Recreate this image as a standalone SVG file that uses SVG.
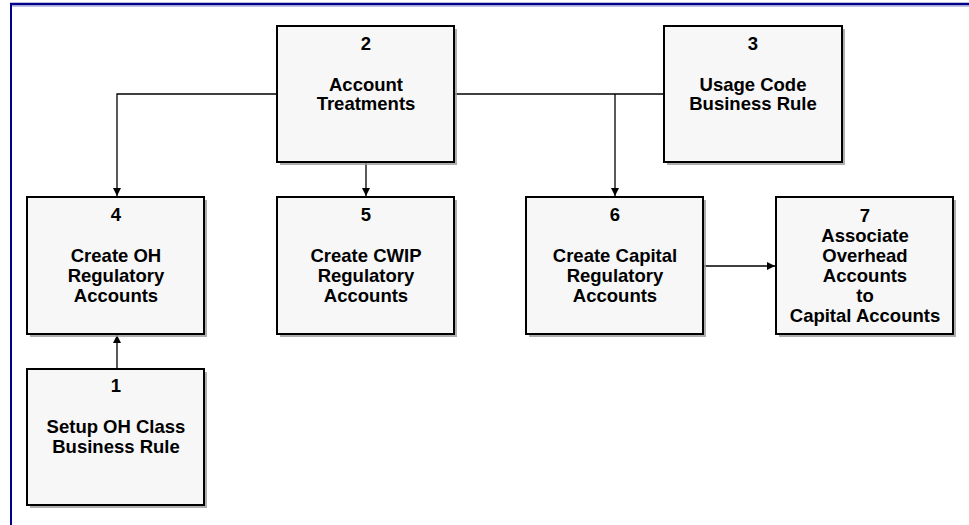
<svg xmlns="http://www.w3.org/2000/svg" width="969" height="525" viewBox="0 0 969 525">
<style>
.shadow{fill:#9a9a9a;opacity:0.8}
.box{fill:#f7f7f7;stroke:#000;stroke-width:2}
.t{font-family:"Liberation Sans",Arial,sans-serif;font-weight:bold;font-size:18.5px;fill:#000;text-anchor:middle}
.c{stroke:#000;stroke-width:1.3;fill:none}
</style>
<defs>
<marker id="arr" viewBox="0 0 10 10" refX="10" refY="5" markerWidth="8" markerHeight="8" markerUnits="userSpaceOnUse" orient="auto">
<path d="M0,0 L10,5 L0,10 z" fill="#000"/>
</marker>
</defs>
<rect width="969" height="525" fill="#fff"/>
<g id="frame">
<line x1="10" y1="4" x2="969" y2="4" stroke="#00008b" stroke-width="2.5"/>
<line x1="10" y1="6" x2="969" y2="6" stroke="#8a8ad0" stroke-width="1"/>
<line x1="11" y1="3" x2="11" y2="525" stroke="#00008b" stroke-width="2"/>
</g>
<g id="connectors">
<polyline class="c" points="277,94 117,94 117,196" marker-end="url(#arr)"/>
<line class="c" x1="454" y1="94" x2="664" y2="94"/>
<line class="c" x1="615" y1="94" x2="615" y2="196" marker-end="url(#arr)"/>
<line class="c" x1="366" y1="162" x2="366" y2="196" marker-end="url(#arr)"/>
<line class="c" x1="117" y1="369" x2="117" y2="335" marker-end="url(#arr)"/>
<line class="c" x1="703" y1="266" x2="775" y2="266" marker-end="url(#arr)"/>
</g>
<g id="node2">
<rect class="shadow" x="280" y="29" width="177" height="136"/>
<rect class="box" x="277" y="26" width="177" height="136"/>
<text class="t" x="366" y="50">2</text>
<text class="t" x="366" y="91">Account</text>
<text class="t" x="366" y="110">Treatments</text>
</g>
<g id="node3">
<rect class="shadow" x="667" y="29" width="178" height="136"/>
<rect class="box" x="664" y="26" width="178" height="136"/>
<text class="t" x="753" y="50">3</text>
<text class="t" x="753" y="91">Usage Code</text>
<text class="t" x="753" y="110">Business Rule</text>
</g>
<g id="node4">
<rect class="shadow" x="30" y="200" width="177" height="137"/>
<rect class="box" x="27" y="197" width="177" height="137"/>
<text class="t" x="116" y="221">4</text>
<text class="t" x="116" y="262">Create OH</text>
<text class="t" x="116" y="282">Regulatory</text>
<text class="t" x="116" y="302">Accounts</text>
</g>
<g id="node5">
<rect class="shadow" x="280" y="200" width="177" height="137"/>
<rect class="box" x="277" y="197" width="177" height="137"/>
<text class="t" x="366" y="221">5</text>
<text class="t" x="366" y="262">Create CWIP</text>
<text class="t" x="366" y="282">Regulatory</text>
<text class="t" x="366" y="302">Accounts</text>
</g>
<g id="node6">
<rect class="shadow" x="529" y="200" width="177" height="137"/>
<rect class="box" x="526" y="197" width="177" height="137"/>
<text class="t" x="615" y="221">6</text>
<text class="t" x="615" y="262">Create Capital</text>
<text class="t" x="615" y="282">Regulatory</text>
<text class="t" x="615" y="302">Accounts</text>
</g>
<g id="node7">
<rect class="shadow" x="779" y="200" width="177" height="137"/>
<rect class="box" x="776" y="197" width="177" height="137"/>
<text class="t" x="865" y="222">7</text>
<text class="t" x="865" y="242">Associate</text>
<text class="t" x="865" y="262">Overhead</text>
<text class="t" x="865" y="282">Accounts</text>
<text class="t" x="865" y="302">to</text>
<text class="t" x="865" y="322">Capital Accounts</text>
</g>
<g id="node1">
<rect class="shadow" x="30" y="372" width="177" height="136"/>
<rect class="box" x="27" y="369" width="177" height="136"/>
<text class="t" x="116" y="392">1</text>
<text class="t" x="116" y="433">Setup OH Class</text>
<text class="t" x="116" y="453">Business Rule</text>
</g>
</svg>
